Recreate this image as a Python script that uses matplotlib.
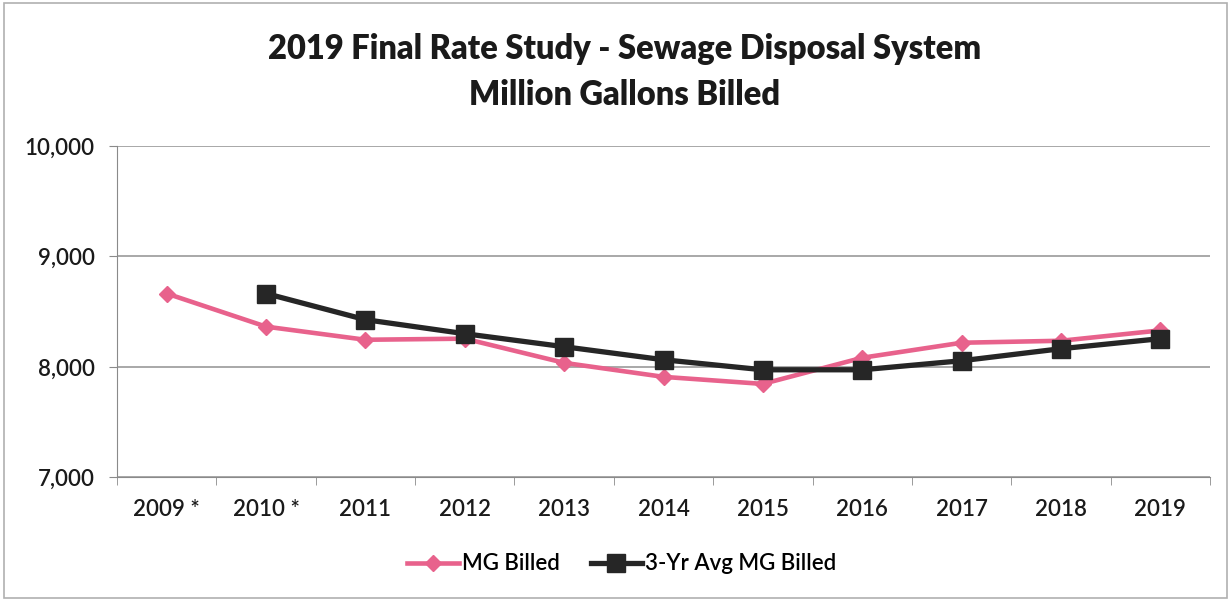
import matplotlib.pyplot as plt
from matplotlib.ticker import FuncFormatter

years = ['2009 *', '2010 *', '2011', '2012', '2013', '2014',
         '2015', '2016', '2017', '2018', '2019']
mg_billed = [8664, 8364, 8245, 8255, 8036, 7909, 7845, 8082, 8218, 8236, 8330]
avg_years = years[1:]
avg_billed = [8664, 8427, 8300, 8182, 8064, 7973, 7973, 8055, 8164, 8255]

plt.rcParams['font.family'] = ['Lato', 'DejaVu Sans']

fig = plt.figure(figsize=(12.31, 6.01), dpi=100)
ax = fig.add_axes([0.095, 0.206, 0.888, 0.551])

x = list(range(len(years)))
x_avg = [years.index(y) for y in avg_years]

ax.plot(x, mg_billed, color='#e8628c', lw=3.3, marker='D', ms=8,
        label='MG Billed', zorder=3)
ax.plot(x_avg, avg_billed, color='#262626', lw=3.8, marker='s', ms=13,
        label='3-Yr Avg MG Billed', zorder=4)

ax.set_xlim(-0.5, len(years) - 0.5)
ax.set_ylim(7000, 10000)
ax.set_yticks([7000, 8000, 9000, 10000])
ax.yaxis.set_major_formatter(FuncFormatter(lambda v, p: f'{int(v):,}'))
ax.set_xticks(x)
ax.set_xticklabels(years)
ax.set_xticks([i + 0.5 for i in range(-1, len(years))], minor=True)

ax.grid(axis='y', color='#9a9a9a', lw=1.2)
ax.set_axisbelow(True)
for s in ['top', 'right']:
    ax.spines[s].set_visible(False)
ax.spines['left'].set_color('#8a8a8a')
ax.spines['bottom'].set_color('#8a8a8a')
ax.tick_params(axis='x', which='major', length=0, pad=16, labelsize=16,
               labelcolor='#1a1a1a')
ax.tick_params(axis='x', which='minor', length=6, color='#8a8a8a')
ax.tick_params(axis='y', length=6, color='#8a8a8a', pad=10, labelsize=16,
               labelcolor='#1a1a1a')
for lab in ax.get_xticklabels() + ax.get_yticklabels():
    lab.set_fontweight('semibold')

fig.suptitle('2019 Final Rate Study - Sewage Disposal System\nMillion Gallons Billed',
             fontsize=23.5, fontweight='heavy', x=0.507, y=0.945,
             color='#1a1a1a', linespacing=1.55)

leg = ax.legend(loc='upper center', bbox_to_anchor=(0.462, -0.17), ncol=2,
                frameon=False, fontsize=16, handlelength=2.3,
                columnspacing=1.4, handletextpad=0.15)
for t in leg.get_texts():
    t.set_fontweight('semibold')

fig.patches.append(plt.Rectangle((0.003, 0.005), 0.994, 0.99, fill=False,
                                 edgecolor='#b0b0b0', lw=1.2,
                                 transform=fig.transFigure))

fig.savefig('out.png', dpi=100)
